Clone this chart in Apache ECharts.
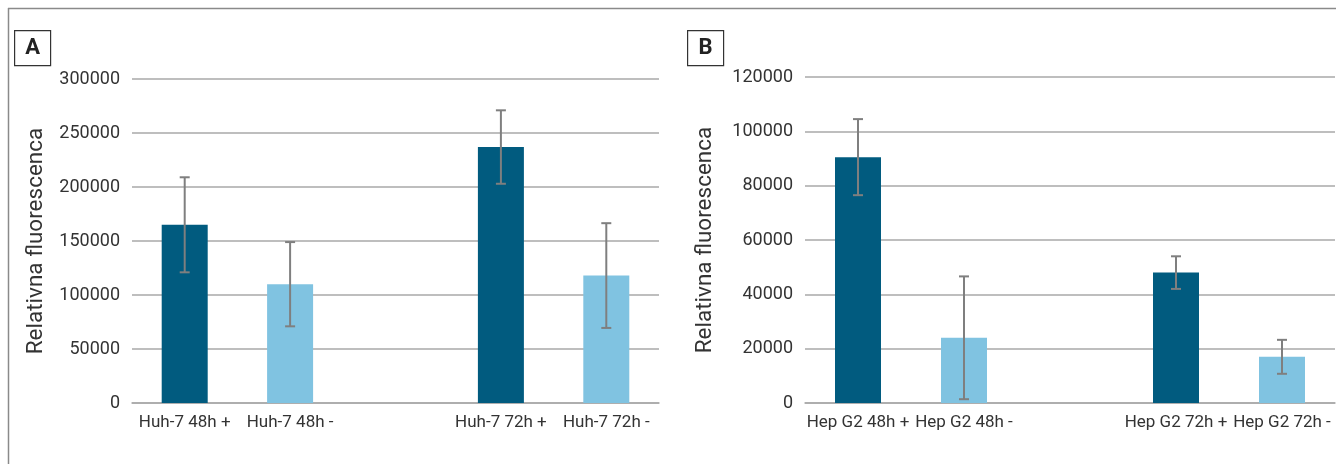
<!DOCTYPE html>
<html>
<head>
<meta charset="utf-8">
<script src="https://cdn.jsdelivr.net/npm/echarts@6/dist/echarts.min.js"></script>
<style>
  html, body { margin: 0; padding: 0; background: #fff; }
  #chart { width: 1336px; height: 464px; }
</style>
</head>
<body>
<div id="chart"></div>
<script>
// panel A - Huh-7, empty slot in the middle separates 48h and 72h
const catsA = ['Huh-7 48h +', 'Huh-7 48h -', '', 'Huh-7 72h +', 'Huh-7 72h -']
const meanA = [165000, 110000, '-', 237000, 118000]
const errA = [44000, 39000, '-', 34000, 48500]
const ticksA = [0, 50000, 100000, 150000, 200000, 250000, 300000]

// panel B - Hep G2
const catsB = ['Hep G2 48h +', 'Hep G2 48h -', '', 'Hep G2 72h +', 'Hep G2 72h -']
const meanB = [90500, 24000, '-', 48000, 17000]
const errB = [14000, 22600, '-', 6000, 6250]
const ticksB = [0, 20000, 40000, 60000, 80000, 100000, 120000]

const DARK = '#015b7f'
const LIGHT = '#80c3e1'
const GRID_LINE = '#a9a9a9'
const TEXT = '#333333'
const FONT = 'Roboto'

const barColor = (cat) => (cat.trim().endsWith('+') ? DARK : LIGHT)

const barData = (cats, means) => means.map((v, i) => (
  v === '-' ? '-' : { value: v, itemStyle: { color: barColor(cats[i]) } }
))

const errData = (means, errs) => means
  .map((v, i) => (v === '-' ? null : [i, v - errs[i], v + errs[i]]))
  .filter(Boolean)

const renderError = (params, api) => {
  const lo = api.coord([api.value(0), api.value(1)])
  const hi = api.coord([api.value(0), api.value(2)])
  const cap = 5
  const style = { stroke: '#7f7f7f', lineWidth: 2 }
  return {
    type: 'group',
    children: [
      { type: 'line', shape: { x1: hi[0], y1: hi[1], x2: lo[0], y2: lo[1] }, style },
      { type: 'line', shape: { x1: hi[0] - cap, y1: hi[1], x2: hi[0] + cap, y2: hi[1] }, style },
      { type: 'line', shape: { x1: lo[0] - cap, y1: lo[1], x2: lo[0] + cap, y2: lo[1] }, style },
    ],
  }
}

const xAxis = (cats, idx) => ({
  type: 'category',
  gridIndex: idx,
  data: cats,
  axisTick: { show: false },
  axisLine: { lineStyle: { color: GRID_LINE, width: 1.5 } },
  axisLabel: { interval: 0, color: TEXT, fontSize: 17, fontFamily: FONT, margin: 11 },
})

const yAxis = (ticks, idx, gap) => ({
  type: 'value',
  gridIndex: idx,
  min: ticks[0],
  max: ticks[ticks.length - 1],
  interval: ticks[1] - ticks[0],
  name: 'Relativna fluorescenca',
  nameLocation: 'middle',
  nameRotate: 90,
  nameGap: gap,
  nameMoveOverlap: false,
  nameTextStyle: { color: TEXT, fontSize: 22.5, fontFamily: FONT },
  axisLine: { show: false },
  axisTick: { show: false },
  axisLabel: { color: TEXT, fontSize: 18, fontFamily: FONT, margin: 12, formatter: (v) => String(v) },
  splitLine: { lineStyle: { color: GRID_LINE, width: 1.5 } },
})

const panelLabel = (x, text) => ({
  type: 'group',
  left: x,
  top: 30,
  children: [
    { type: 'rect', shape: { x: 0.5, y: 0.5, width: 36, height: 35 }, style: { fill: '#fff', stroke: '#333', lineWidth: 1.2 } },
    { type: 'text', x: 18.5, y: 18, style: { text, fill: '#222', font: `bold 22px ${FONT}`, align: 'center', verticalAlign: 'middle' } },
  ],
})

const chart = echarts.init(document.getElementById('chart'))
chart.setOption({
  animation: false,
  backgroundColor: '#fff',
  grid: [
    { left: 132, right: 677, top: 79, bottom: 61 },
    { left: 805, right: 1, top: 77, bottom: 61 },
  ],
  xAxis: [xAxis(catsA, 0), xAxis(catsB, 1)],
  yAxis: [yAxis(ticksA, 0, 84), yAxis(ticksB, 1, 88)],
  graphic: [
    { type: 'line', shape: { x1: 8, y1: 8.5, x2: 1336, y2: 8.5 }, style: { stroke: '#8a8a8a', lineWidth: 1.5 } },
    { type: 'line', shape: { x1: 8.5, y1: 8, x2: 8.5, y2: 464 }, style: { stroke: '#8a8a8a', lineWidth: 1.5 } },
    panelLabel(14, 'A'),
    panelLabel(687, 'B'),
  ],
  series: [
    { type: 'bar', xAxisIndex: 0, yAxisIndex: 0, barWidth: 46, data: barData(catsA, meanA) },
    { type: 'custom', xAxisIndex: 0, yAxisIndex: 0, renderItem: renderError, data: errData(meanA, errA), z: 10 },
    { type: 'bar', xAxisIndex: 1, yAxisIndex: 1, barWidth: 46, data: barData(catsB, meanB) },
    { type: 'custom', xAxisIndex: 1, yAxisIndex: 1, renderItem: renderError, data: errData(meanB, errB), z: 10 },
  ],
})
</script>
</body>
</html>
